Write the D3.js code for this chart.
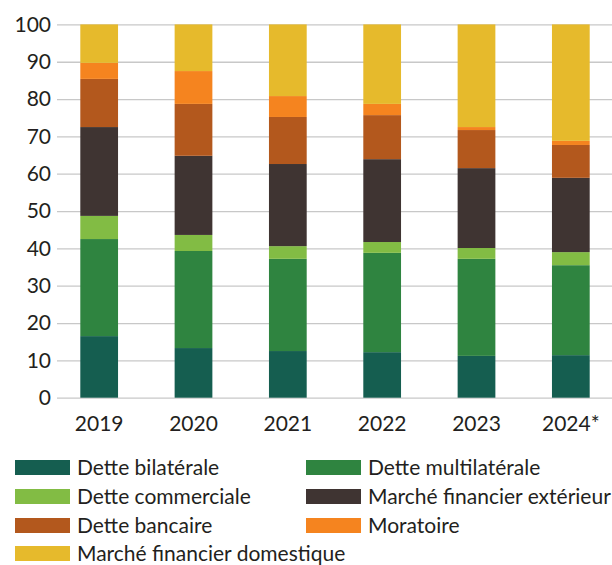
<!DOCTYPE html>
<html>
<head>
<meta charset="utf-8">
<script src="https://cdn.jsdelivr.net/npm/d3@7"></script>
<style>
  body { margin: 0; background: #fff; }
  svg text { font-family: Lato, "Noto Sans", sans-serif; fill: #231f20; }
</style>
</head>
<body>
<div id="graph"></div>
<script>
// categories and series (share in %)
const years = ["2019", "2020", "2021", "2022", "2023", "2024*"];
const seriesNames = ["Dette bilatérale", "Dette multilatérale", "Dette commerciale",
  "Marché financier extérieur", "Dette bancaire", "Moratoire", "Marché financier domestique"];
const bilaterale    = [16.5, 13.3, 12.5, 12.2, 11.2, 11.4];
const multilaterale = [26.0, 26.0, 24.7, 26.6, 26.0, 24.1];
const commerciale   = [6.2, 4.3, 3.4, 2.9, 2.9, 3.5];
const exterieur     = [23.8, 21.2, 22.0, 22.2, 21.4, 19.9];
const bancaire      = [12.9, 13.9, 12.6, 11.8, 10.2, 8.8];
const moratoire     = [4.3, 8.8, 5.6, 3.0, 0.8, 1.1];
const domestique    = [10.3, 12.5, 19.2, 21.3, 27.5, 31.2];
const yTicks = [0, 10, 20, 30, 40, 50, 60, 70, 80, 90, 100];

const colors = ["#155e50", "#2f8440", "#82bc44", "#3f3432", "#b3581d", "#f5841f", "#e6ba2c"];
const allSeries = [bilaterale, multilaterale, commerciale, exterieur, bancaire, moratoire, domestique];

// build table for the stack
const table = years.map((yr, i) => {
  const row = {year: yr};
  seriesNames.forEach((s, k) => row[s] = allSeries[k][i]);
  return row;
});

const width = 612, height = 565;
const svg = d3.select("#graph").append("svg")
  .attr("width", width).attr("height", height);

const x = d3.scaleBand().domain(years).range([52, 618]).paddingInner(0.6).paddingOuter(0.3);
const y = d3.scaleLinear().domain([0, 100]).range([397.7, 24.4]);

// gridlines + y labels
const yAxis = svg.append("g")
  .attr("transform", "translate(57,0)")
  .call(d3.axisLeft(y).tickValues(yTicks).tickSize(-(width - 57)).tickPadding(6));
yAxis.select(".domain").remove();
yAxis.selectAll("line").attr("stroke", "#c8c8c8").attr("stroke-width", 1.3);
yAxis.selectAll("text").attr("font-size", 21).attr("font-family", null).attr("fill", "#231f20");

// stacked bars
const stack = d3.stack().keys(seriesNames)(table);
svg.append("g").selectAll("g")
  .data(stack)
  .join("g")
    .attr("fill", (d, i) => colors[i])
  .selectAll("rect")
  .data(d => d)
  .join("rect")
    .attr("x", d => x(d.data.year))
    .attr("y", d => y(d[1]))
    .attr("width", x.bandwidth())
    .attr("height", d => y(d[0]) - y(d[1]));

// x labels
const xAxis = svg.append("g")
  .attr("transform", `translate(0,${y(0)})`)
  .call(d3.axisBottom(x).tickSize(0).tickPadding(18));
xAxis.select(".domain").remove();
xAxis.selectAll("text").attr("font-size", 21).attr("font-family", null).attr("fill", "#231f20");

// legend
const legend = svg.append("g");
const colX = [15, 306], rowY = [460, 489, 518, 546];
seriesNames.forEach((s, i) => {
  const g = legend.append("g")
    .attr("transform", `translate(${colX[i % 2]},${rowY[Math.floor(i / 2)]})`);
  g.append("rect").attr("width", 55).attr("height", 15).attr("fill", colors[i]);
  g.append("text").attr("x", 62).attr("y", 15).attr("font-size", 21).text(s);
});
</script>
</body>
</html>
